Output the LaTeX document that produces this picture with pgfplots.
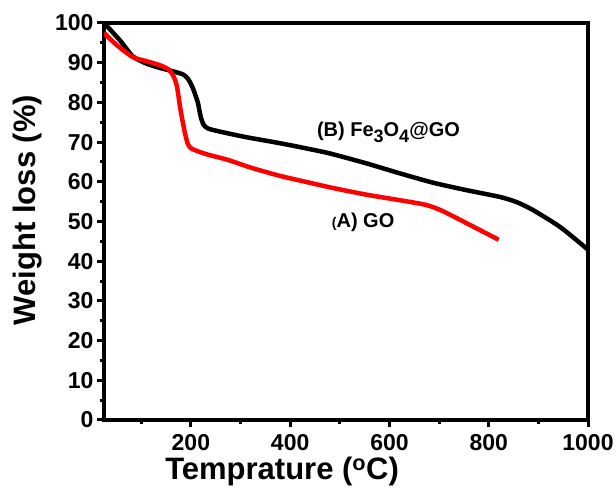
\documentclass[border=0pt]{standalone}
\usepackage{fontspec}
\setmainfont{Liberation Sans}
\usepackage{pgfplots}
\pgfplotsset{compat=1.18}
\begin{document}
\begin{tikzpicture}
\begin{axis}[
  scale only axis, width=484pt, height=397pt,
  xmin=25, xmax=1000, ymin=0, ymax=100,
  axis line style={line width=4.5pt},
  xtick={200,400,600,800,1000}, minor xtick={100,300,500,700,900},
  ytick={0,10,...,100}, minor ytick={5,15,...,95},
  tick align=outside, tick pos=left,
  major tick length=7pt, minor tick length=4pt,
  every tick/.style={line width=3pt, black},
  /pgf/number format/assume math mode=true,
  /pgf/number format/1000 sep={},
  tick label style={font=\fontsize{23}{23}\selectfont\bfseries},
  xticklabel style={yshift=-4pt},
  xlabel={Temprature (\textsuperscript{o}C)},
  ylabel={Weight loss (\%)},
  label style={font=\fontsize{31}{31}\selectfont\bfseries},
  xlabel style={at={(axis description cs:0.368,-0.13)}, anchor=center},
  ylabel style={at={(axis description cs:-0.157,0.529)}, anchor=center},
]
\addplot[black, line width=4.5pt, smooth, tension=0.4] coordinates {
(25,100) (40,98) (60,95.2) (83,91.6) (110,89.8) (137,88.7) (165,87.8) (185,87)
(195,85.8) (204,83.6) (210,81.5) (214,80) (220,76.3) (226,74.3) (235,73.4) (260,72.6)
(309,71.3) (376,69.8) (417,68.8) (478,67.2) (552,64.7) (619,62.2) (687,59.8)
(755,57.9) (822,56.2) (856,54.9) (889,52.9) (944,48.6) (1000,42.9)};
\addplot[red, line width=4.5pt, smooth, tension=0.4] coordinates {
(25,97.5) (50,94.5) (83,91.4) (110,90.4) (137,89.4) (155,88.3) (165,86.6) (172,84)
(178,79) (183,75.5) (188,72.3) (194,69.5) (202,68.3) (230,67) (275,65.5) (320,63.6)
(376,61.6) (417,60.4) (484,58.5) (552,56.8) (619,55.4) (673,54.2) (706,52.7)
(755,49.6) (820,45.4)};
\node[anchor=base west, font=\fontsize{20}{20}\selectfont\bfseries] at (axis cs:447,71.5)
  {(B) Fe\raisebox{-0.3em}{\fontsize{18}{18}\selectfont 3}O\raisebox{-0.3em}{\fontsize{18}{18}\selectfont 4}@GO};
\node[anchor=base west, font=\fontsize{20}{20}\selectfont\bfseries] at (axis cs:477,48.6)
  {{\fontsize{14}{14}\selectfont(}A) GO};
\coordinate (sw) at (rel axis cs:0,0);
\coordinate (ne) at (rel axis cs:1,1);
\end{axis}
\pgfresetboundingbox
\path ([shift={(-104pt,-75pt)}]sw) rectangle ([shift={(28pt,23pt)}]ne);
\end{tikzpicture}
\end{document}
